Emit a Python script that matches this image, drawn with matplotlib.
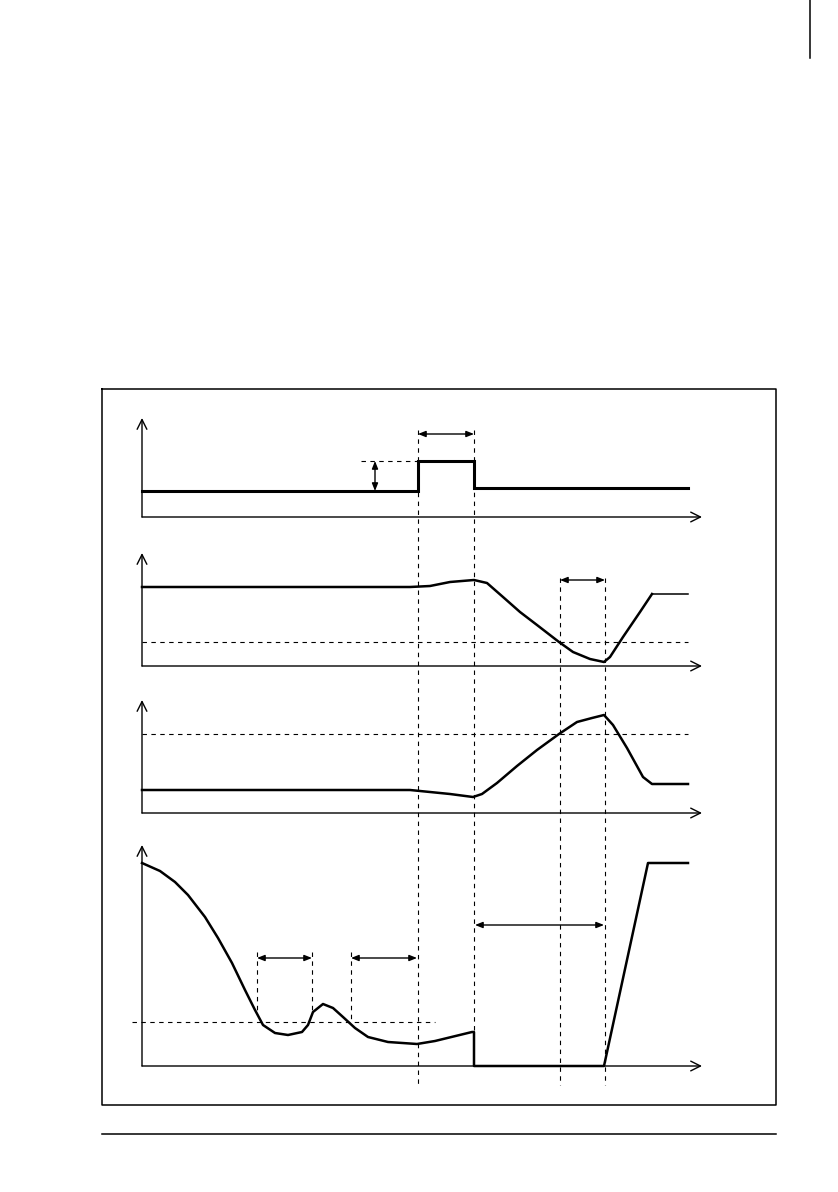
import matplotlib
matplotlib.use("Agg")
import matplotlib.pyplot as plt

# ── Diagram geometry (page pixels, y grows downward) ─────────────────────────
frame_x = [102, 776, 776, 102, 102]
frame_y = [389, 389, 1105, 1105, 389]
page_rule_x = [102, 776]
page_rule_y = [1134, 1134]

# axes of the four traces: (x0, y_top, y_axis, x_end)
axes_defs = [
    (142, 418, 517, 702),
    (142, 553, 666, 702),
    (142, 700, 813, 702),
    (142, 845, 1066, 702),
]

# trace 1: step pulse
sig1_x = [142, 418, 418, 474, 474, 688]
sig1_y = [491, 491, 461, 461, 488, 488]

# trace 2: dips below threshold then recovers
sig2_x = [142, 410, 430, 450, 474, 487, 503, 520, 537, 559, 573, 590, 604, 610, 623, 640, 652]
sig2_y = [587, 587, 586, 582, 580, 583, 597, 612, 625, 642, 652, 659, 662, 657, 637, 612, 594]
sig2_tail_x = [652, 688]
sig2_tail_y = [594, 594]
thr2_y = 642

# trace 3: rises above threshold then drops
sig3_x = [142, 410, 430, 450, 473, 482, 497, 517, 537, 559, 577, 592, 604, 613, 627, 643, 652, 688]
sig3_y = [790, 790, 792, 794, 797, 794, 783, 766, 750, 734, 722, 718, 715, 725, 748, 777, 784, 784]
thr3_y = 734

# trace 4: decaying signal, drop to zero, ramp back up
sig4_x = [142, 160, 175, 188, 205, 218, 232, 245, 255, 263, 275, 288, 302, 308, 313, 323,
          333, 343, 355, 368, 388, 417, 435, 472, 474, 474, 604, 648, 688]
sig4_y = [863, 871, 882, 895, 917, 938, 963, 990, 1010, 1025, 1033, 1035, 1032, 1025, 1012, 1004,
          1008, 1017, 1028, 1037, 1042, 1044, 1041, 1032, 1032, 1066, 1066, 863, 863]
thr4_x = [132, 435]
thr4_y = 1022

# vertical dashed markers: (x, y_start, y_end)
vmarks = [
    (418, 430, 1085),
    (474, 430, 1032),
    (560, 578, 1085),
    (605, 578, 1085),
    (257, 952, 1012),
    (312, 952, 1010),
    (351, 952, 1020),
]

# double-headed dimension arrows: (x0, y0, x1, y1)
dims = [
    (418, 434, 474, 434),
    (375, 461, 375, 491),
    (560, 580, 605, 580),
    (257, 958, 312, 958),
    (351, 958, 417, 958),
    (475, 925, 604, 925),
]

# ── Draw ──────────────────────────────────────────────────────────────────────
fig = plt.figure(figsize=(8.38, 11.92), dpi=100)
ax = fig.add_axes([0, 0, 1, 1])
ax.set_xlim(0, 838)
ax.set_ylim(1192, 0)
ax.axis('off')

ax.plot(frame_x, frame_y, color='black', lw=1.1)
ax.plot(page_rule_x, page_rule_y, color='black', lw=1.1)
ax.plot([810, 810], [0, 58], color='black', lw=1.1)

for x0, ytop, yax, xend in axes_defs:
    ax.annotate('', xy=(x0, ytop), xytext=(x0, yax),
                arrowprops=dict(arrowstyle='->,head_length=0.7,head_width=0.35',
                                color='black', lw=1.0, shrinkA=0, shrinkB=0))
    ax.annotate('', xy=(xend, yax), xytext=(x0, yax),
                arrowprops=dict(arrowstyle='->,head_length=0.7,head_width=0.35',
                                color='black', lw=1.0, shrinkA=0, shrinkB=0))

dash = dict(color='black', lw=0.8, dashes=(4, 4))
for x, y0, y1 in vmarks:
    ax.plot([x, x], [y0, y1], **dash)

# threshold / reference lines
ax.plot([361, 418], [461, 461], **dash)
ax.plot([142, 688], [thr2_y, thr2_y], **dash)
ax.plot([142, 688], [thr3_y, thr3_y], **dash)
ax.plot(thr4_x, [thr4_y, thr4_y], **dash)

ax.plot(sig1_x, sig1_y, color='black', lw=2.2, solid_joinstyle='miter')
ax.plot(sig2_x, sig2_y, color='black', lw=1.8, solid_joinstyle='round')
ax.plot(sig2_tail_x, sig2_tail_y, color='black', lw=1.1)
ax.plot(sig3_x, sig3_y, color='black', lw=1.8, solid_joinstyle='round')
ax.plot(sig4_x, sig4_y, color='black', lw=1.8, solid_joinstyle='round')

for x0, y0, x1, y1 in dims:
    ax.annotate('', xy=(x1, y1), xytext=(x0, y0),
                arrowprops=dict(arrowstyle='<|-|>,head_length=0.45,head_width=0.18',
                                color='black', lw=1.0, shrinkA=0, shrinkB=0))

fig.savefig('out.png', dpi=100, facecolor='white')
